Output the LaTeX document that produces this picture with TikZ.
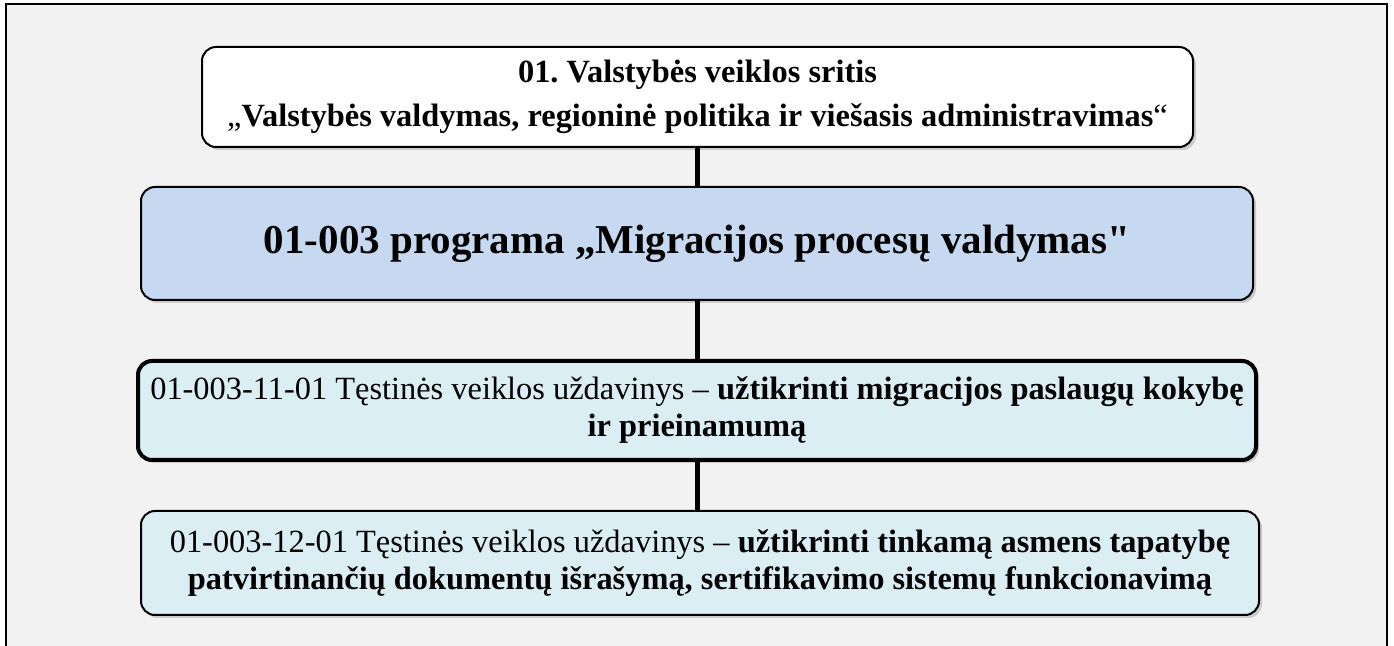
\documentclass[tikz,border=0pt]{standalone}
\usepackage{fontspec}
\setmainfont{Liberation Serif}[Ligatures=TeXOff]
\usetikzlibrary{shadows}
\definecolor{framegray}{HTML}{F2F2F2}
\definecolor{progblue}{HTML}{C6D9F1}
\definecolor{taskcyan}{HTML}{DBEEF4}
\frenchspacing

\begin{document}
\begin{tikzpicture}[x=0.5pt,y=-0.5pt,
	box/.style={draw,rounded corners=7pt,line width=1pt,align=center,inner sep=0pt,
		drop shadow={opacity=0.35,shadow xshift=1.5pt,shadow yshift=-1.5pt},
		font=\fontsize{16.2}{18.5}\selectfont},
	link/.style={line width=2.5pt}]
%
	\useasboundingbox (0,0) rectangle (1394,646);
	\fill[framegray] (6,4) rectangle (1387,646);
	\draw[line width=1pt] (6,646) -- (6,4) -- (1387,4) -- (1387,646);
%
	\node[box,fill=white,minimum width=495.5pt,minimum height=50pt,
		font=\fontsize{16.2}{22}\selectfont\bfseries] (sritis) at (697.5,97)
		{01. Valstybės veiklos sritis\\
		{\mdseries „}Valstybės valdymas, regioninė politika ir viešasis administravimas{\mdseries “}};
	\node[box,fill=progblue,minimum width=556pt,minimum height=56.5pt,
		font=\fontsize{20.5}{22}\selectfont\bfseries] (programa) at (697,243.5)
		{01-003 programa „Migracijos procesų valdymas"};
	\node[box,fill=taskcyan,line width=2pt,minimum width=559pt,minimum height=49.5pt] (kokybe) at (697,410.5)
		{01-003-11-01 Tęstinės veiklos uždavinys – \textbf{užtikrinti migracijos paslaugų kokybę}\\
		\textbf{ir prieinamumą}};
	\node[box,fill=taskcyan,minimum width=559pt,minimum height=52pt] (dokumentai) at (700,563)
		{01-003-12-01 Tęstinės veiklos uždavinys – \textbf{užtikrinti tinkamą asmens tapatybę}\\
		\textbf{patvirtinančių dokumentų išrašymą, sertifikavimo sistemų funkcionavimą}};
%
	\draw[link] (sritis.south) -- (sritis.south |- programa.north);
	\draw[link] (programa.south) -- (programa.south |- kokybe.north);
	\draw[link] (kokybe.south) -- (kokybe.south |- dokumentai.north);
\end{tikzpicture}
\end{document}
